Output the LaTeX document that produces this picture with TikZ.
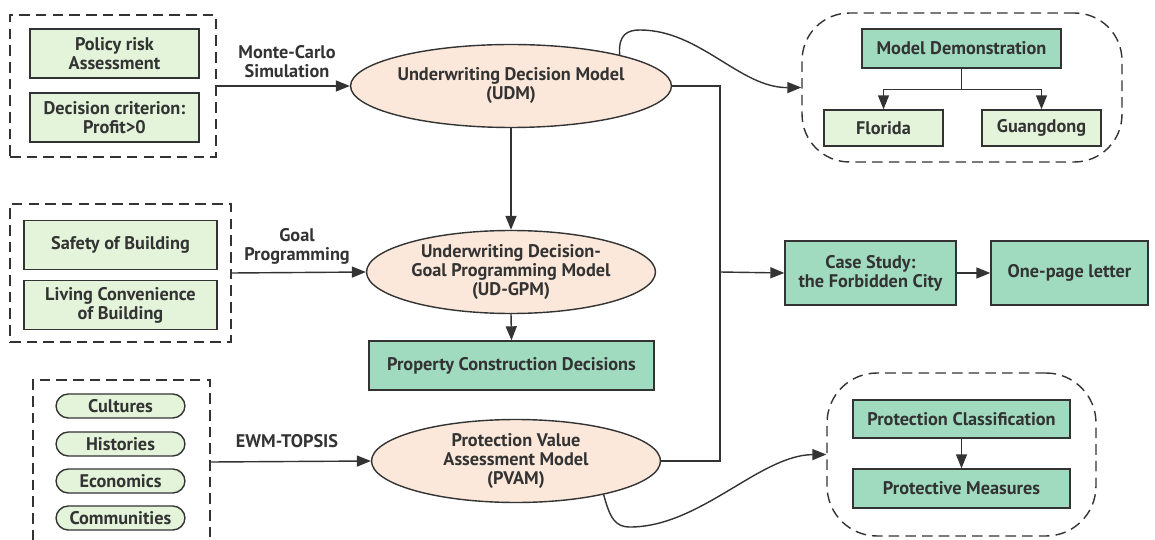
\documentclass[tikz,border=0pt]{standalone}
\usepackage{fontspec}
\setmainfont{PT Sans}
\usepackage{xcolor}
\definecolor{cLine}{HTML}{333333}
\definecolor{cLight}{HTML}{E3F4DA}
\definecolor{cTeal}{HTML}{A0DBC0}
\definecolor{cPeach}{HTML}{FBE8DA}
\usetikzlibrary{positioning,arrows.meta,shapes.geometric,calc}
\tikzset{
  box-light/.style={draw=cLine,thick,fill=cLight,align=center,inner sep=0pt,
    minimum height=0.98cm},
  box-teal/.style={draw=cLine,thick,fill=cTeal,align=center,inner sep=0pt},
  box-pill/.style={draw=cLine,thick,fill=cLight,rounded corners=7pt,
    minimum width=2.58cm,minimum height=0.48cm,inner sep=0pt},
  node-model/.style={draw=cLine,thick,fill=cPeach,ellipse,align=center,
    minimum width=5.78cm,minimum height=1.66cm,inner sep=0pt},
  group/.style={draw=cLine,thick,dash pattern=on 6pt off 3.5pt},
  arrow/.style={-{Triangle[length=2.8mm,width=2.2mm]},thick,draw=cLine},
  wire/.style={thick,draw=cLine},
  method/.style={align=center},
}

\begin{document}
\begin{tikzpicture}[x=0.02cm,y=-0.02cm,font=\fontsize{10.4}{10.8}\selectfont\bfseries,
  text=cLine]
  \useasboundingbox (0,0) rectangle (1155,540);
  % left: inputs of the three models
  \node[group,minimum width=4.12cm,minimum height=2.84cm] (grpUDM) at (113,86) {};
  \node[box-light,minimum width=3.38cm] (risk) at (114.5,53.5) {Policy risk\\Assessment};
  \node[box-light,minimum width=3.38cm] (crit) at (114.5,117.5) {Decision criterion:\\Profit>0};

  \node[group,minimum width=4.42cm,minimum height=2.76cm] (grpGPM) at (120.5,273) {};
  \node[box-light,minimum width=3.86cm] (safety) at (120.5,245) {Safety of Building};
  \node[box-light,minimum width=3.86cm] (living) at (120.5,305) {Living Convenience\\of Building};

  \node[group,minimum width=3.54cm,minimum height=3.28cm] (grpPVAM) at (121.5,462) {};
  \foreach \name/\y/\txt in {cult/406/Cultures, hist/444/Histories,
      econ/481/Economics, comm/518/Communities}
    \node[box-pill] (\name) at (120.5,\y) {\txt};

  % middle: models
  \node[node-model] (udm) at (511,86) {Underwriting Decision Model\\(UDM)};
  \node[node-model] (gpm) at (511,272) {Underwriting Decision-\\Goal Programming Model\\(UD-GPM)};
  \node[box-teal,minimum width=5.7cm,minimum height=0.98cm] (pcd) at (511.5,365.5) {Property Construction Decisions};
  \node[node-model] (pvam) at (516,461) {Protection Value\\Assessment Model\\(PVAM)};

  \node[method] (mc) at (287,62) {Monte-Carlo\\Simulation};
  \node[method] (gp) at (297,246) {Goal\\Programming};
  \node[method] (ewm) at (287,441) {EWM-TOPSIS};

  \draw[arrow] (grpUDM.east) -- (udm.west);
  \draw[arrow] (grpGPM.east) -- (gpm.west);
  \draw[arrow] (grpPVAM.east) -- (pvam.west);
  \draw[arrow] (udm.south) -- (gpm.north);
  \draw[arrow] (gpm.south) -- (pcd.north);

  % right: demonstration, case study, protection
  \node[group,rounded corners=0.95cm,minimum width=6.4cm,minimum height=2.98cm] (grpDemo) at (962,87.5) {};
  \node[box-teal,minimum width=3.98cm,minimum height=0.78cm] (demo) at (961.5,48.5) {Model Demonstration};
  \node[box-light,minimum width=2.38cm,minimum height=0.72cm] (florida) at (883.5,128) {Florida};
  \node[box-light,minimum width=2.38cm,minimum height=0.72cm] (guang) at (1041.5,128) {Guangdong};
  \draw[arrow] (demo.south) -- ++(0,21) -| (florida.north);
  \draw[arrow] (demo.south) -- ++(0,21) -| (guang.north);

  \node[box-teal,minimum width=3.42cm,minimum height=1.28cm] (case) at (870.5,273) {Case Study:\\the Forbidden City};
  \node[box-teal,minimum width=3.14cm,minimum height=1.28cm] (letter) at (1069.5,273) {One-page letter};
  \coordinate (junction) at (720,272);
  \draw[wire] (udm.east) -| (junction);
  \draw[wire] (pvam.east) -| (junction);
  \draw[arrow] (junction) -- (case.west);
  \draw[arrow] (case.east) -- (letter.west);

  \node[group,rounded corners=1cm,minimum width=5.38cm,minimum height=3.26cm] (grpProt) at (961.5,454.5) {};
  \node[box-teal,minimum width=4.34cm,minimum height=0.76cm] (classif) at (961.5,419) {Protection Classification};
  \node[box-teal,minimum width=4.34cm,minimum height=0.78cm] (measure) at (961.5,488.5) {Protective Measures};
  \draw[arrow] (classif.south) -- (measure.north);

  \draw[arrow] (udm.16) .. controls (618,34) and (628,30) .. (640,30)
    .. controls (700,30) and (740,88) .. (grpDemo.west);
  \draw[arrow] (pvam.-21) .. controls (610,518) and (615,527) .. (630,527)
    .. controls (700,527) and (760,455) .. (grpProt.west);
\end{tikzpicture}
\end{document}
